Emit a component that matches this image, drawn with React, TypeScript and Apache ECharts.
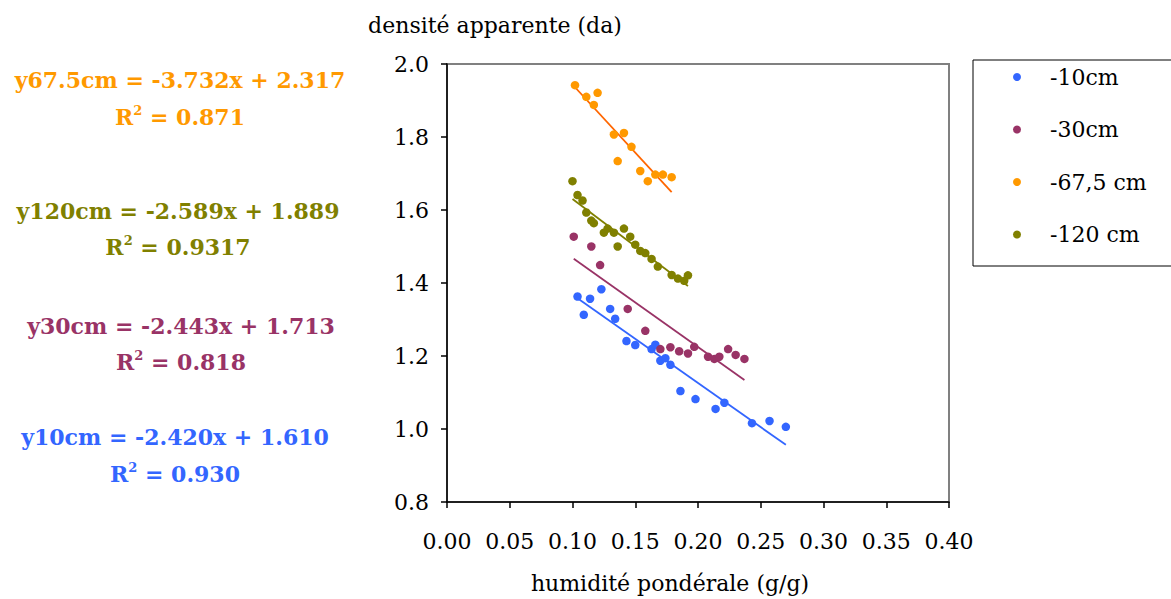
import React, { useEffect, useRef } from "react";
import * as echarts from "echarts";

// ---- data ----
const seriesNames = ["-10cm", "-30cm", "-67,5 cm", "-120 cm"];
const seriesColors = ["#3366FF", "#993366", "#FF9900", "#808000"];
const trendColors = ["#3366FF", "#993366", "#FF6600", "#808000"];

const depth10X = [0.104, 0.109, 0.114, 0.123, 0.130, 0.134, 0.143, 0.150, 0.163, 0.166, 0.170, 0.174, 0.178, 0.186, 0.198, 0.214, 0.221, 0.243, 0.257, 0.270];
const depth10Y = [1.363, 1.313, 1.357, 1.383, 1.329, 1.302, 1.241, 1.230, 1.219, 1.231, 1.187, 1.194, 1.176, 1.104, 1.082, 1.055, 1.072, 1.016, 1.022, 1.006];

const depth30X = [0.101, 0.115, 0.122, 0.144, 0.158, 0.170, 0.178, 0.185, 0.192, 0.197, 0.208, 0.213, 0.217, 0.224, 0.230, 0.237];
const depth30Y = [1.527, 1.500, 1.449, 1.329, 1.269, 1.219, 1.224, 1.213, 1.207, 1.225, 1.198, 1.192, 1.198, 1.219, 1.203, 1.192];

const depth67X = [0.102, 0.111, 0.117, 0.120, 0.133, 0.141, 0.136, 0.147, 0.154, 0.160, 0.166, 0.172, 0.179];
const depth67Y = [1.942, 1.910, 1.888, 1.921, 1.807, 1.811, 1.734, 1.773, 1.707, 1.679, 1.697, 1.697, 1.690];

const depth120X = [0.100, 0.104, 0.108, 0.111, 0.115, 0.117, 0.125, 0.128, 0.133, 0.136, 0.141, 0.146, 0.150, 0.154, 0.158, 0.163, 0.168, 0.179, 0.184, 0.189, 0.192];
const depth120Y = [1.679, 1.641, 1.626, 1.593, 1.571, 1.564, 1.538, 1.549, 1.538, 1.500, 1.549, 1.527, 1.505, 1.488, 1.482, 1.466, 1.445, 1.422, 1.412, 1.406, 1.421];

// regression coefficients as printed on the chart
const slopes = [-2.42, -2.443, -3.732, -2.589];
const intercepts = [1.61, 1.713, 2.317, 1.889];

const equationLabels = [
  "y10cm = -2.420x + 1.610",
  "y30cm = -2.443x + 1.713",
  "y67.5cm = -3.732x + 2.317",
  "y120cm = -2.589x + 1.889",
];
const r2Labels = ["0.930", "0.818", "0.871", "0.9317"];

const xAxisTitle = "humidité pondérale (g/g)";
const yAxisTitle = "densité apparente (da)";

const allX = [depth10X, depth30X, depth67X, depth120X];
const allY = [depth10Y, depth30Y, depth67Y, depth120Y];

const SERIF = "'DejaVu Serif', serif";

export default function App() {
  const ref = useRef<HTMLDivElement>(null);
  useEffect(() => {
    if (!ref.current) return;
    const chart = echarts.init(ref.current, undefined, { renderer: "svg" });

    const scatterSeries = seriesNames.map((name, i) => ({
      name,
      type: "scatter",
      symbol: "circle",
      symbolSize: 8.5,
      itemStyle: { color: seriesColors[i], opacity: 1 },
      data: allX[i].map((x, k) => [x, allY[i][k]]),
      z: 3,
    }));

    const trendSeries = seriesNames.map((name, i) => {
      const xs = allX[i];
      const x0 = Math.min(...xs);
      const x1 = Math.max(...xs);
      return {
        name: name + " trend",
        type: "line",
        symbol: "none",
        lineStyle: { color: trendColors[i], width: 1.8 },
        data: [
          [x0, slopes[i] * x0 + intercepts[i]],
          [x1, slopes[i] * x1 + intercepts[i]],
        ],
        z: 2,
      };
    });

    // equation block positions (center x, y of equation line, y of R² line)
    const eqPos = [
      [175, 437, 474],
      [181, 326, 362],
      [180, 80, 117],
      [178, 211, 247],
    ];
    const eqGraphics: any[] = [];
    equationLabels.forEach((t, i) => {
      eqGraphics.push({
        type: "text",
        x: eqPos[i][0],
        y: eqPos[i][1],
        style: {
          text: t,
          fill: seriesColors[i],
          font: `bold 22px ${SERIF}`,
          textAlign: "center",
          textVerticalAlign: "middle",
        },
      });
      eqGraphics.push({
        type: "text",
        x: eqPos[i][0],
        y: eqPos[i][2],
        style: {
          text: `{b|R}{s|2}{b| = ${r2Labels[i]}}`,
          textAlign: "center",
          textVerticalAlign: "middle",
          rich: {
            b: { fontFamily: SERIF, fontWeight: "bold", fontSize: 22, fill: seriesColors[i] },
            s: { fontFamily: SERIF, fontWeight: "bold", fontSize: 13, fill: seriesColors[i], padding: [0, 0, 14, 0] },
          },
        },
      });
    });

    chart.setOption({
      animation: false,
      grid: {
        left: 447,
        top: 64,
        width: 502,
        height: 438,
        show: true,
        borderColor: "#808080",
        borderWidth: 2,
        backgroundColor: "transparent",
      },
      legend: {
        data: seriesNames,
        orient: "vertical",
        left: 1008,
        top: 61,
        itemWidth: 8,
        itemHeight: 8,
        itemGap: 30.5,
        icon: "circle",
        textStyle: { fontFamily: SERIF, fontSize: 22, color: "#000", padding: [0, 0, 0, 24] },
      },
      xAxis: {
        type: "value",
        min: 0,
        max: 0.4,
        interval: 0.05,
        name: xAxisTitle,
        nameLocation: "middle",
        nameGap: 70,
        nameTextStyle: { fontFamily: SERIF, fontSize: 22, color: "#000", padding: [0, 56, 0, 0] },
        axisLine: { show: true, onZero: false, lineStyle: { color: "#000", width: 1.5 } },
        axisTick: { show: true, length: 6, lineStyle: { color: "#000", width: 1.5 } },
        axisLabel: {
          margin: 28,
          fontFamily: SERIF,
          fontSize: 22,
          color: "#000",
          formatter: (v: number) => v.toFixed(2),
        },
        splitLine: { show: false },
      },
      yAxis: {
        type: "value",
        min: 0.8,
        max: 2.0,
        interval: 0.2,
        axisLine: { show: true, onZero: false, lineStyle: { color: "#000", width: 1.5 } },
        axisTick: { show: true, length: 6, lineStyle: { color: "#000", width: 1.5 } },
        axisLabel: {
          margin: 18,
          fontFamily: SERIF,
          fontSize: 22,
          color: "#000",
          formatter: (v: number) => v.toFixed(1),
        },
        splitLine: { show: false },
      },
      graphic: [
        {
          type: "rect",
          shape: { x: 973, y: 60, width: 220, height: 206 },
          style: { fill: "#fff", stroke: "#000", lineWidth: 1 },
          z: -1,
          silent: true,
        },
        {
          type: "text",
          x: 495,
          y: 25,
          style: {
            text: yAxisTitle,
            font: `22px ${SERIF}`,
            fill: "#000",
            textAlign: "center",
            textVerticalAlign: "middle",
          },
        },
        ...eqGraphics,
      ],
      series: [...trendSeries, ...scatterSeries],
    });
    return () => chart.dispose();
  }, []);

  return (
    <div
      ref={ref}
      style={{ position: "absolute", left: 0, top: 0, width: 1171, height: 599, background: "#fff" }}
    />
  );
}
